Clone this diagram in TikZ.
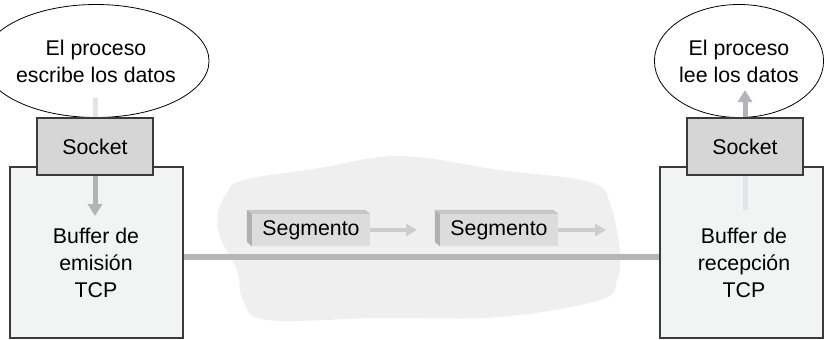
\documentclass[tikz,border=0pt]{standalone}
\usepackage{fontspec}
\setmainfont{Liberation Sans}
\usetikzlibrary{shapes.geometric,arrows.meta,calc}
\definecolor{cloudgray}{HTML}{EFEFEF}
\definecolor{sockgray}{HTML}{D6D6D6}
\definecolor{bufgray}{HTML}{F2F3F3}
\definecolor{darkline}{HTML}{3A3A3A}
\definecolor{wiregray}{HTML}{B6B6BA}
\definecolor{flowgray}{HTML}{B4B4B8}
\definecolor{fadegray}{HTML}{E4E4E6}
\definecolor{segface}{HTML}{DCDCDC}
\definecolor{segtop}{HTML}{C6C6C6}
\definecolor{segside}{HTML}{B0B0B0}
\definecolor{segflow}{HTML}{CDCDD0}
\begin{document}
\begin{tikzpicture}[x=1pt,y=-1pt,
  every node/.style={font=\fontsize{21.3}{27}\selectfont, align=center},
  proc/.style={ellipse, draw=black, line width=0.8pt, fill=white, minimum height=113pt, inner sep=0pt},
  sock/.style={rectangle, draw=darkline, line width=1.1pt, fill=sockgray, minimum width=116pt, minimum height=57pt},
  buf/.style={rectangle, draw=darkline, line width=1.1pt, fill=bufgray, minimum height=171pt},
  seg/.style={rectangle, fill=segface, minimum width=118pt, minimum height=32pt, inner sep=0pt},
  flow/.style={draw=flowgray, line width=5pt, -{Triangle[length=12pt,width=14pt]}},
  fade/.style={draw=fadegray, line width=5pt},
  segarrow/.style={draw=segflow, line width=4pt, -{Triangle[length=11pt,width=12pt]}}
]
\useasboundingbox (0,0) rectangle (825,340);
\fill[cloudgray] plot[smooth cycle, tension=0.6] coordinates {
  (227,193) (243,180) (320,168) (400,156) (500,170) (590,182) (610,203)
  (620,253) (617,280) (600,300) (500,317) (380,318) (267,320) (243,300)
  (237,270) (220,237) (218,213)};
\path node[buf, minimum width=173pt] (bufE) at (96.5,252.5) {}
node[buf, minimum width=163pt] (bufR) at (741.5,252.5) {}
node (txtE) at (96,263) {Buffer de\\emisión\\TCP}
node (txtR) at (744,263) {Buffer de\\recepción\\TCP}
node[proc, minimum width=181pt] (procE) at (96,61) {El proceso\\escribe los datos}
node[proc, minimum width=167pt] (procR) at (739,61) {El proceso\\lee los datos}
node[sock] (sockE) at (95,146.5) {Socket}
node[sock] (sockR) at (745,146.5) {Socket}
node[seg] (segA) at (311,230) {Segmento}
node[seg] (segB) at (499,230) {Segmento}
;
\coordinate (inE) at (95,98);
\coordinate (downE) at (95,216);
\coordinate (upR) at (745,90);
\coordinate (inR) at (745,210);
\coordinate (tipA) at (417,230);
\coordinate (tipB) at (606,230);
\foreach \s in {segA,segB} {
  \fill[segtop] (\s.north west) -- ++(-5,-4) -- ($(\s.north east)+(-5,-4)$) -- (\s.north east) -- cycle;
  \fill[segside] (\s.north west) -- ++(-5,-4) -- ++(0,32) -- (\s.south west) -- cycle;
}
\draw[draw=wiregray, line width=5.5pt] ([yshift=-4.5pt]bufE.east) -- ([yshift=-4.5pt]bufR.west);
\draw[segarrow] (segA.east) -- (tipA);
\draw[segarrow] (segB.east) -- (tipB);
\draw[fade] (inE) -- (sockE.north);
\draw[flow] (sockE.south) -- (downE);
\draw[fade] (sockR.south) -- (inR);
\draw[flow] (sockR.north) -- (upR);
\end{tikzpicture}
\end{document}
